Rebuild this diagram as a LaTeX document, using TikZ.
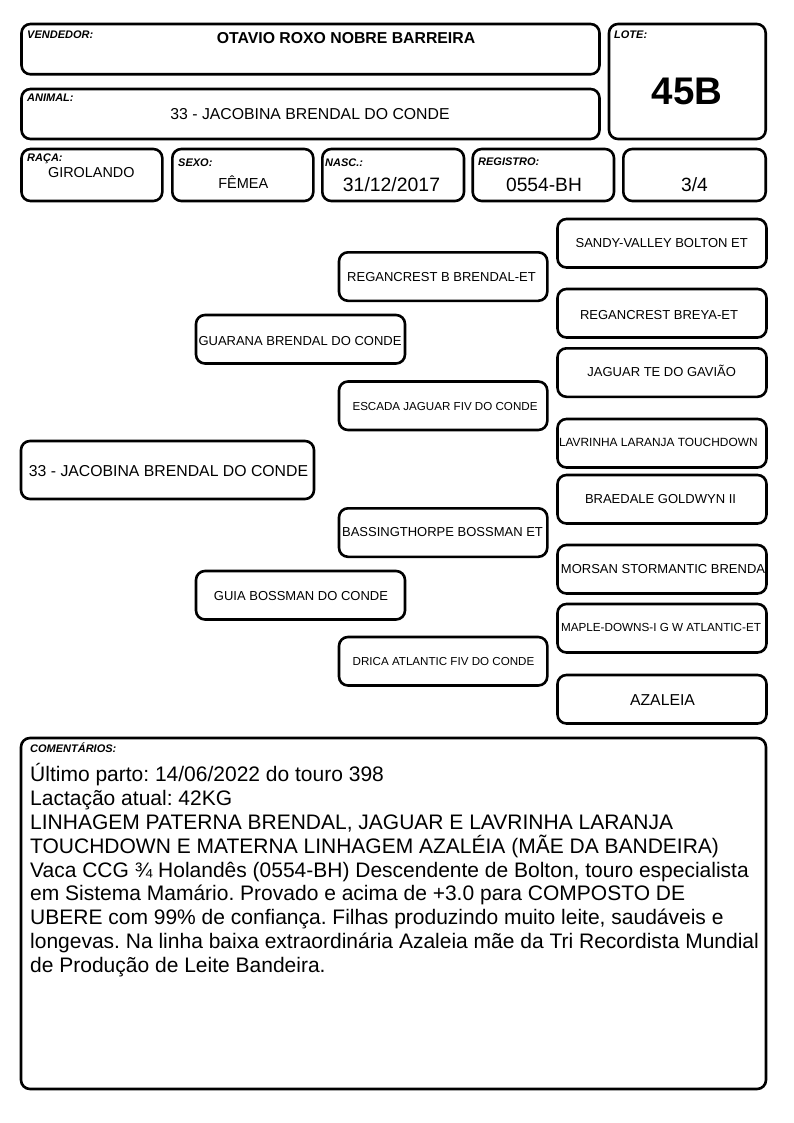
\documentclass[tikz,border=0pt]{standalone}
\usepackage{fontspec}
\setmainfont{Liberation Sans}
\newcommand\myfs[1]{\fontsize{#1}{#1}\selectfont}
\begin{document}
\frenchspacing
\begin{tikzpicture}[x=1pt,y=-1pt,
  box/.style={draw, line width=2.6pt, rounded corners=9pt, inner sep=0pt, outer sep=0pt, anchor=north west},
  lbl/.style={font=\myfs{11}\bfseries\itshape, anchor=base west, inner sep=0pt},
  txt/.style={anchor=base, inner sep=0pt},
  ped/.style={box, minimum width=209pt, minimum height=48.5pt},
  comline/.style={font=\myfs{21}, anchor=base west, inner sep=0pt},
]
\path[fill=white] (0,0) rectangle (794,1123);
\useasboundingbox (0,0) rectangle (794,1123);

% header boxes
\node[box, minimum width=578pt, minimum height=50.3pt] (vend) at (21.5,24) {};
\node[box, minimum width=156.7pt, minimum height=115pt] (lote) at (609,24) {};
\node[box, minimum width=578pt, minimum height=50pt] (anim) at (21.5,89) {};
\node[box, minimum width=140.8pt, minimum height=52pt] (raca) at (21.5,149) {};
\node[box, minimum width=141pt, minimum height=52pt] (sexo) at (172.3,149) {};
\node[box, minimum width=141.7pt, minimum height=52pt] (nasc) at (322.3,149) {};
\node[box, minimum width=141.3pt, minimum height=52pt] (regi) at (472.7,149) {};
\node[box, minimum width=142.4pt, minimum height=52pt] (frac) at (623.3,149) {};

% header labels and values
\node[lbl] (lvend) at (27,39) {VENDEDOR:};
\node[txt, font=\myfs{15.8}\bfseries] (tvend) at (346,44) {OTAVIO ROXO NOBRE BARREIRA};
\node[lbl] (llote) at (614,39) {LOTE:};
\node[txt, font=\myfs{38.5}\bfseries] (tlote) at (687,105) {45B};
\node[lbl] (lanim) at (27,102) {ANIMAL:};
\node[txt, font=\myfs{15.8}] (tanim) at (310,120) {33 - JACOBINA BRENDAL DO CONDE};
\node[lbl] (lraca) at (27,162) {RAÇA:};
\node[txt, font=\myfs{14.4}] (traca) at (91.3,178) {GIROLANDO};
\node[lbl] (lsexo) at (178,166.5) {SEXO:};
\node[txt, font=\myfs{14.5}] (tsexo) at (243.3,189) {FÊMEA};
\node[lbl] (lnasc) at (325,166.5) {NASC.:};
\node[txt, font=\myfs{19.4}] (tnasc) at (391.5,192) {31/12/2017};
\node[lbl] (lregi) at (478,166) {REGISTRO:};
\node[txt, font=\myfs{19.2}] (tregi) at (544,192) {0554-BH};
\node[txt, font=\myfs{19.2}] (tfrac) at (694.5,192) {3/4};

% pedigree boxes
\node[box, minimum width=293pt, minimum height=58pt] (main) at (21,441) {};
\node[txt, font=\myfs{15.8}] (tmain) at (168.5,476) {33 - JACOBINA BRENDAL DO CONDE};

\node[ped] (guar) at (196,315) {};
\node[txt, font=\myfs{13}] (tguar) at (300,345.5) {GUARANA BRENDAL DO CONDE};
\node[ped] (guia) at (196,571) {};
\node[txt, font=\myfs{13}] (tguia) at (301,600) {GUIA BOSSMAN DO CONDE};

\node[ped, minimum width=208.3pt] (regb) at (339,252.3) {};
\node[txt, font=\myfs{13}] (tregb) at (441.5,281.5) {REGANCREST B BRENDAL-ET};
\node[ped, minimum width=208.3pt] (esca) at (339,381.5) {};
\node[txt, font=\myfs{11.6}] (tesca) at (445,410) {ESCADA JAGUAR FIV DO CONDE};
\node[ped, minimum width=208.3pt] (bass) at (339,508.3) {};
\node[txt, font=\myfs{13}] (tbass) at (442.5,536.7) {BASSINGTHORPE BOSSMAN ET};
\node[ped, minimum width=208.3pt] (dric) at (339,637) {};
\node[txt, font=\myfs{11.6}] (tdric) at (443.5,665) {DRICA ATLANTIC FIV DO CONDE};

\node[ped] (sand) at (557.5,219) {};
\node[txt, font=\myfs{13}] (tsand) at (661.7,247.7) {SANDY-VALLEY BOLTON ET};
\node[ped] (brey) at (557.5,289) {};
\node[txt, font=\myfs{13}] (tbrey) at (659,319) {REGANCREST BREYA-ET};
\node[ped] (jagu) at (557.5,348.3) {};
\node[txt, font=\myfs{13}] (tjagu) at (661.7,376.7) {JAGUAR TE DO GAVIÃO};
\node[ped] (lavr) at (557.5,419) {};
\node[txt, font=\myfs{11.9}] (tlavr) at (658.3,446.7) {LAVRINHA LARANJA TOUCHDOWN};
\node[ped] (brae) at (557.5,475) {};
\node[txt, font=\myfs{13}] (tbrae) at (660.5,503.3) {BRAEDALE GOLDWYN II};
\node[ped] (mors) at (557.5,545) {};
\node[txt, font=\myfs{13}] (tmors) at (663,573.3) {MORSAN STORMANTIC BRENDA};
\node[ped] (mapl) at (557.5,604) {};
\node[txt, font=\myfs{11.7}] (tmapl) at (661,631.7) {MAPLE-DOWNS-I G W ATLANTIC-ET};
\node[ped] (azal) at (557.5,675) {};
\node[txt, font=\myfs{15.8}] (tazal) at (662.5,705) {AZALEIA};

% comments
\node[box, minimum width=745pt, minimum height=351pt] (coms) at (21,738) {};
\node[lbl] (lcoms) at (30,752) {COMENTÁRIOS:};
\node[comline] (c1) at (30,781.5) {Último parto: 14/06/2022 do touro 398};
\node[comline] (c2) at (30,805.4) {Lactação atual: 42KG};
\node[comline] (c3) at (30,829.3) {LINHAGEM PATERNA BRENDAL, JAGUAR E LAVRINHA LARANJA};
\node[comline] (c4) at (30,853.1) {TOUCHDOWN E MATERNA LINHAGEM AZALÉIA (MÃE DA BANDEIRA)};
\node[comline] (c5) at (30,877.0) {Vaca CCG ¾ Holandês (0554-BH) Descendente de Bolton, touro especialista};
\node[comline] (c6) at (30,900.9) {em Sistema Mamário. Provado e acima de +3.0 para COMPOSTO DE};
\node[comline] (c7) at (30,924.8) {UBERE com 99\% de confiança. Filhas produzindo muito leite, saudáveis e};
\node[comline] (c8) at (30,948.6) {longevas. Na linha baixa extraordinária Azaleia mãe da Tri Recordista Mundial};
\node[comline] (c9) at (30,972.5) {de Produção de Leite Bandeira.};
\end{tikzpicture}
\end{document}
